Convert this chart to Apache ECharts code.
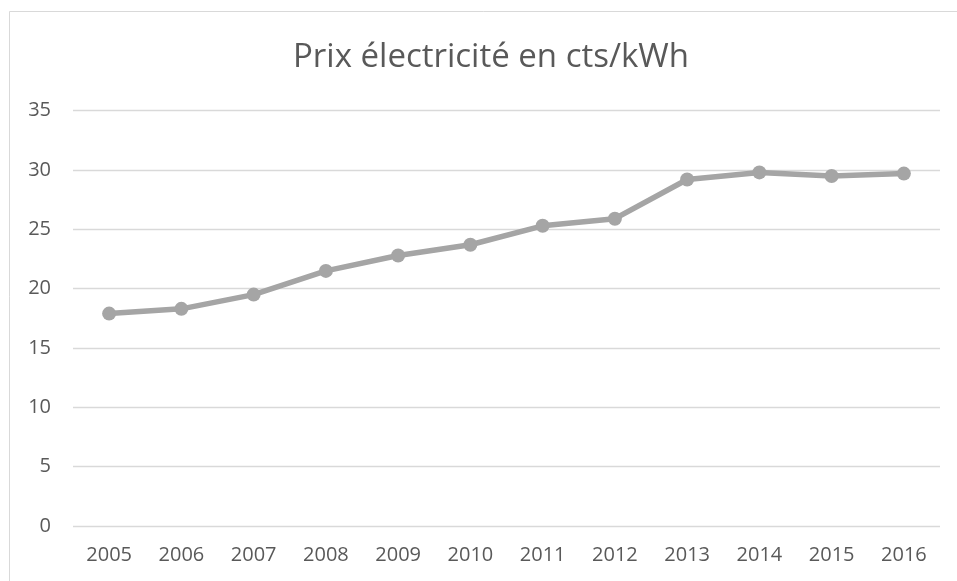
<!DOCTYPE html>
<html>
<head>
<meta charset="utf-8">
<script src="https://cdn.jsdelivr.net/npm/echarts@6/dist/echarts.min.js"></script>
<style>
  html, body { margin: 0; padding: 0; background: #ffffff; }
  #chart { width: 957px; height: 581px; }
</style>
</head>
<body>
<div id="chart"></div>
<script>
// Electricity price per year, cents per kWh
const years = ['2005', '2006', '2007', '2008', '2009', '2010', '2011', '2012', '2013', '2014', '2015', '2016'];
const prices = [17.9, 18.3, 19.5, 21.5, 22.8, 23.7, 25.3, 25.9, 29.2, 29.8, 29.5, 29.7];
const yTicks = [0, 5, 10, 15, 20, 25, 30, 35];

const chart = echarts.init(document.getElementById('chart'), null, { renderer: 'canvas' });

const labelFont = '"Open Sans", sans-serif';
const textGrey = '#595959';

chart.setOption({
  backgroundColor: '#ffffff',
  animation: false,
  graphic: [{
    type: 'rect',
    shape: { x: 9.5, y: 11.5, width: 960, height: 600 },
    style: { fill: 'none', stroke: '#d9d9d9', lineWidth: 1 },
    silent: true
  }],
  title: {
    text: 'Prix électricité en cts/kWh',
    left: 288,
    top: 36,
    textStyle: {
      fontFamily: labelFont,
      fontWeight: 'normal',
      fontSize: 33,
      color: textGrey
    }
  },
  grid: { left: 73, right: 17, top: 110.7, bottom: 55 },
  xAxis: {
    type: 'category',
    data: years,
    boundaryGap: true,
    axisLine: { show: false },
    axisTick: { show: false },
    axisLabel: {
      margin: 19,
      fontFamily: labelFont,
      fontSize: 20,
      color: textGrey
    }
  },
  yAxis: {
    type: 'value',
    min: yTicks[0],
    max: yTicks[yTicks.length - 1],
    interval: 5,
    axisLine: { show: false },
    axisTick: { show: false },
    splitLine: { lineStyle: { color: '#d9d9d9', width: 1.3 } },
    axisLabel: {
      margin: 22,
      fontFamily: labelFont,
      fontSize: 20,
      color: textGrey
    }
  },
  series: [{
    type: 'line',
    data: prices,
    symbol: 'circle',
    symbolSize: 14,
    lineStyle: { color: '#a5a5a5', width: 5.5 },
    itemStyle: { color: '#a5a5a5' }
  }]
});
</script>
</body>
</html>
